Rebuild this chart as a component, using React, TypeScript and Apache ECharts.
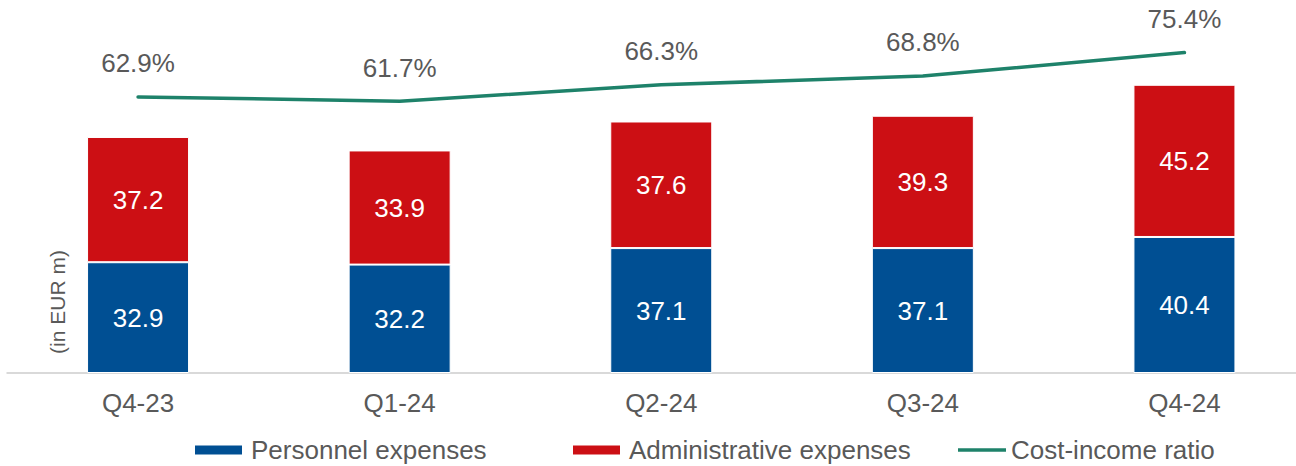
import React, { useEffect, useRef } from "react";
import * as echarts from "echarts";

const categories = ["Q4-23", "Q1-24", "Q2-24", "Q3-24", "Q4-24"];
const personnel = [32.9, 32.2, 37.1, 37.1, 40.4];
const administrative = [37.2, 33.9, 37.6, 39.3, 45.2];
const costIncome = [62.9, 61.7, 66.3, 68.8, 75.4];

const FONT = "'Liberation Sans', Arial, sans-serif";
const GRAY = "#595959";
const BLUE = "#004f93";
const RED = "#cc0f14";
const GREEN = "#1e826a";

export default function App() {
  const ref = useRef<HTMLDivElement>(null);
  useEffect(() => {
    if (!ref.current) return;
    const chart = echarts.init(ref.current, undefined, { renderer: "svg" });
    const legendText = { color: GRAY, fontSize: 26, fontFamily: FONT, padding: [0, 0, 0, 3] };
    chart.setOption({
      animation: false,
      textStyle: { fontFamily: FONT },
      grid: { left: 7.25, right: 22.75, top: 36.3, bottom: 466 - 373, containLabel: false },
      legend: [
        {
          left: 193, top: 437, padding: 0, itemWidth: 49, itemHeight: 11,
          icon: "rect", data: ["Personnel expenses"], textStyle: legendText,
        },
        {
          left: 571, top: 437, padding: 0, itemWidth: 49, itemHeight: 11,
          icon: "rect", data: ["Administrative expenses"], textStyle: legendText,
        },
        {
          left: 958, top: 437, padding: 0, itemWidth: 48, itemHeight: 3.5,
          icon: "rect", data: ["Cost-income ratio"], textStyle: { ...legendText, padding: [0, 0, 0, 0] },
        },
      ],
      xAxis: {
        type: "category",
        data: categories,
        axisLine: { lineStyle: { color: "#d9d9d9", width: 2 } },
        axisTick: { show: false },
        axisLabel: { color: GRAY, fontSize: 26, fontFamily: FONT, margin: 17 },
      },
      yAxis: [
        { type: "value", min: 0, max: 100, show: false, splitLine: { show: false } },
        { type: "value", min: -15, max: 80, show: false, splitLine: { show: false } },
      ],
      graphic: [
        {
          type: "text",
          x: 57,
          y: 302,
          rotation: Math.PI / 2,
          style: {
            text: "(in EUR m)",
            fill: GRAY,
            font: `21px ${FONT}`,
            textAlign: "center",
            textVerticalAlign: "middle",
          },
        },
      ],
      series: [
        {
          name: "Personnel expenses",
          type: "bar",
          stack: "exp",
          barWidth: 102,
          data: personnel,
          itemStyle: { color: BLUE, borderColor: "#fff", borderWidth: 1 },
          label: { show: true, position: "inside", color: "#fff", fontSize: 26, fontFamily: FONT },
        },
        {
          name: "Administrative expenses",
          type: "bar",
          stack: "exp",
          barWidth: 102,
          data: administrative,
          itemStyle: { color: RED, borderColor: "#fff", borderWidth: 1 },
          label: { show: true, position: "inside", color: "#fff", fontSize: 26, fontFamily: FONT },
        },
        {
          name: "Cost-income ratio",
          type: "line",
          yAxisIndex: 1,
          data: costIncome,
          symbol: "circle",
          symbolSize: 1,
          showSymbol: true,
          lineStyle: { color: GREEN, width: 3.5, cap: "round" },
          itemStyle: { color: GREEN },
          label: {
            show: true,
            position: "top",
            distance: 20,
            color: GRAY,
            fontSize: 26,
            fontFamily: FONT,
            formatter: (p: any) => `${p.value.toFixed(1)}%`,
          },
        },
      ],
    });
    return () => chart.dispose();
  }, []);
  return (
    <div style={{ position: "fixed", left: 0, top: 0, width: 1296, height: 466, overflow: "hidden", background: "#fff" }}>
      <div ref={ref} style={{ width: 1338, height: 466 }} />
    </div>
  );
}
